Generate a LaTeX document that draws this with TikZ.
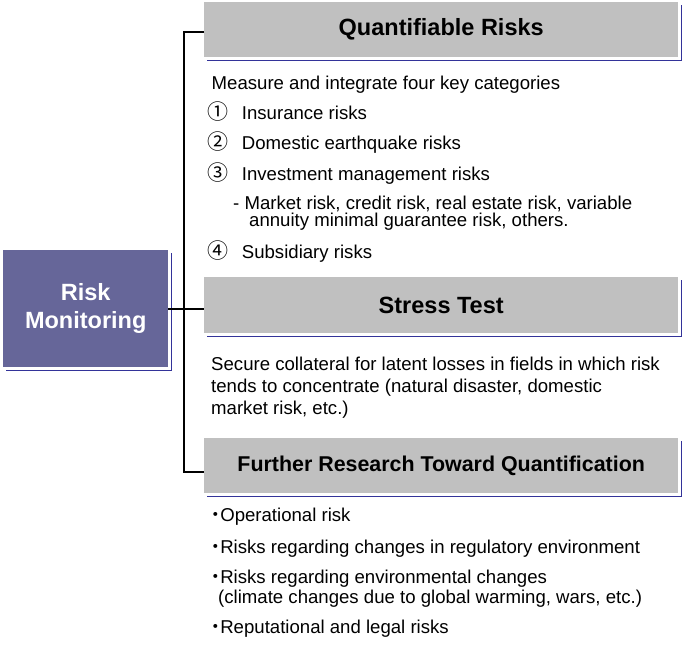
\documentclass[tikz,border=0pt]{standalone}
\usepackage{fontspec}
\setmainfont{Liberation Sans}
\newfontfamily\cjk{Noto Sans CJK JP}
\usetikzlibrary{positioning}
\definecolor{hdrgray}{HTML}{C0C0C0}
\definecolor{monblue}{HTML}{666699}
\definecolor{shadowblue}{HTML}{333399}
\tikzset{
  header/.style={fill=hdrgray, anchor=north west, inner sep=0pt, minimum width=474pt,
    minimum height=55pt, font=\bfseries\fontsize{23.5}{28}\selectfont},
  shadowline/.style={draw=shadowblue, line width=1.3pt},
  conn/.style={draw=black, line width=1.6pt},
  txt/.style={anchor=base west, inner sep=0pt, align=left},
}
\newcommand{\numitem}[1]{\makebox[34.7pt][l]{\cjk\fontsize{21}{22}\selectfont #1}}
\newcommand{\dotitem}{{\cjk ・}\hspace{-4.5pt}}
\begin{document}
\begin{tikzpicture}[x=1pt, y=-1pt, font=\fontsize{18.6}{22}\selectfont]
\useasboundingbox (0,0) rectangle (684,671);
% Boxes
\node[fill=monblue, text=white, anchor=north west, minimum width=165pt, minimum height=117pt,
  align=center, font=\bfseries\fontsize{23.5}{28}\selectfont] (monitor) at (3,250) {Risk\\Monitoring};
\node[header] (quant) at (204,2) {Quantifiable Risks};
\node[header, minimum height=56pt] (stress) at (204,277) {Stress Test};
\node[header, font=\bfseries\fontsize{21.4}{26}\selectfont] (further) at (204,438) {Further Research Toward Quantification};
% Shadows
\foreach \b in {monitor, quant, stress, further}
  \draw[shadowline] ([shift={(3,3)}]\b.south west) -| ([shift={(3,3)}]\b.north east);
% Connectors
\draw[conn] (monitor.east) -- (monitor.east -| stress.west);
\draw[conn] ([yshift=-2.5pt]quant.west) -- ++(-20,0) |- ([yshift=-6.5pt]further.west);
% Quantifiable risks (multi-line nodes sit on their last baseline)
\node[txt] (measure) at (211.5,90) {Measure and integrate four key categories};
\node[txt] (ins) at (207,119.5) {\numitem{①}Insurance risks};
\node[txt] (quake) at (207,149.5) {\numitem{②}Domestic earthquake risks};
\node[txt] (invest) at (207,180.5) {\numitem{③}Investment management risks};
\node[txt, font=\fontsize{18.6}{17.5}\selectfont] (market) at (233,226.5)
  {- Market risk, credit risk, real estate risk, variable\\\hspace*{16pt}annuity minimal guarantee risk, others.};
\node[txt] (subs) at (207,258.5) {\numitem{④}Subsidiary risks};
% Stress test
\node[txt, font=\fontsize{18.6}{22}\selectfont] (secure) at (211,414.5)
  {Secure collateral for latent losses in fields in which risk\\tends to concentrate (natural disaster, domestic\\market risk, etc.)};
% Further research
\node[txt] (oper) at (206,521.5) {\dotitem Operational risk};
\node[txt] (regul) at (206,553.5) {\dotitem Risks regarding changes in regulatory environment};
\node[txt, font=\fontsize{18.6}{20}\selectfont] (envir) at (206,603.5)
  {\dotitem Risks regarding environmental changes\\\hspace*{12pt}(climate changes due to global warming, wars, etc.)};
\node[txt] (repu) at (206,633.5) {\dotitem Reputational and legal risks};
\end{tikzpicture}
\end{document}
